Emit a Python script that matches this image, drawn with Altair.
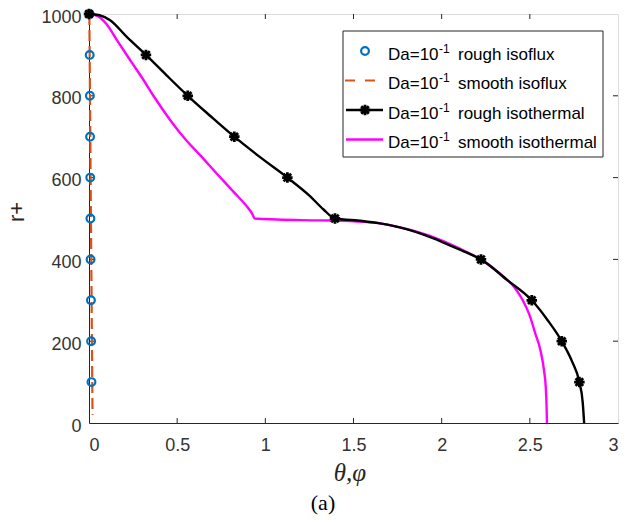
import altair as alt
import pandas as pd

# ---------------- data ----------------
# rough isoflux (blue circles)
rough_isoflux_r = [1000, 900, 800, 700, 600, 500, 400, 300, 200, 100]
rough_isoflux_theta = [0.003, 0.004, 0.005, 0.006, 0.007, 0.008, 0.009, 0.011, 0.012, 0.014]

# smooth isoflux (orange dashed)
smooth_isoflux_theta = [0.002, 0.011, 0.020]
smooth_isoflux_r = [1000, 500, 20]

# rough isothermal (black line)
rough_iso_theta = [0.0, 0.06, 0.12, 0.21, 0.323, 0.44, 0.56, 0.69, 0.824, 0.97, 1.125,
                   1.25, 1.33, 1.395, 1.55, 1.65, 1.80, 1.95, 2.06, 2.14, 2.223,
                   2.37, 2.511, 2.60, 2.681, 2.74, 2.781, 2.80, 2.808]
rough_iso_r = [1000, 997, 985, 946, 900, 850, 800, 750, 700, 650, 600,
               556, 522, 500, 494, 488, 474, 452, 432, 417, 400,
               350, 300, 252, 200, 150, 100, 50, 0]

# rough isothermal markers
marker_theta = [0.0, 0.323, 0.56, 0.824, 1.125, 1.395, 2.223, 2.511, 2.681, 2.781]
marker_r = [1000, 900, 800, 700, 600, 500, 400, 300, 200, 100]

# smooth isothermal (magenta line)
smooth_iso_theta = [0.0, 0.05, 0.10, 0.16, 0.24, 0.31, 0.37, 0.46, 0.55, 0.63, 0.72,
                    0.82, 0.90, 0.925, 0.94, 1.20, 1.40, 1.55, 1.65, 1.76, 1.93,
                    2.10, 2.25, 2.34, 2.41, 2.46, 2.50, 2.53, 2.56, 2.58, 2.59, 2.595, 2.597]
smooth_iso_r = [1000, 995, 975, 935, 883, 838, 797, 741, 692, 655, 612,
                565, 527, 512, 500, 496, 495, 492, 488, 479, 458,
                427, 392, 362, 333, 300, 262, 220, 178, 130, 89, 40, 0]

x_ticks = [0, 0.5, 1, 1.5, 2, 2.5, 3]
y_ticks = [0, 200, 400, 600, 800, 1000]

legend_labels = ["rough isoflux", "smooth isoflux", "rough isothermal", "smooth isothermal"]

# ---------------- styling ----------------
W, H = 529, 409
AX = "#262626"
BLUE = "#0072BD"
ORANGE = "#D95319"
MAGENTA = "#FF00FF"

xs = alt.Scale(domain=[0, 3], nice=False, zero=False)
ys = alt.Scale(domain=[0, 1000], nice=False, zero=False)

x_enc = alt.X("theta:Q", scale=xs,
              axis=alt.Axis(values=x_ticks, format="~g", title=None, tickSize=0,
                            labelFontSize=18, labelPadding=13, labelColor="#333333",
                            labelFont="Liberation Sans", grid=False,
                            domainColor=AX, domainWidth=1))
y_enc = alt.Y("r:Q", scale=ys,
              axis=alt.Axis(values=y_ticks, format="d", title=None, tickSize=0,
                            labelFontSize=18, labelPadding=8, labelColor="#333333",
                            labelFont="Liberation Sans", grid=False, labelOffset=3,
                            domainColor=AX, domainWidth=1))

df_circ = pd.DataFrame({"theta": rough_isoflux_theta, "r": rough_isoflux_r})
df_dash = pd.DataFrame({"theta": smooth_isoflux_theta, "r": smooth_isoflux_r,
                        "i": list(range(len(smooth_isoflux_r)))})
df_black = pd.DataFrame({"theta": rough_iso_theta, "r": rough_iso_r,
                         "i": list(range(len(rough_iso_r)))})
df_mark = pd.DataFrame({"theta": marker_theta, "r": marker_r})
df_mag = pd.DataFrame({"theta": smooth_iso_theta, "r": smooth_iso_r,
                       "i": list(range(len(smooth_iso_r)))})

ASTER = "M-1,0L1,0M0,-1L0,1M-0.72,-0.72L0.72,0.72M-0.72,0.72L0.72,-0.72"

dash_line = alt.Chart(df_dash).mark_line(color=ORANGE, strokeWidth=2.2, strokeDash=[11, 5]).encode(
    x=x_enc, y=y_enc, order="i:Q")
circles = alt.Chart(df_circ).mark_point(shape="circle", filled=False, color=BLUE,
                                       strokeWidth=2.2, size=60, opacity=1).encode(x=x_enc, y=y_enc)
mag_line = alt.Chart(df_mag).mark_line(color=MAGENTA, strokeWidth=2.4, interpolate="monotone").encode(
    x=x_enc, y=y_enc, order="i:Q")
black_line = alt.Chart(df_black).mark_line(color="black", strokeWidth=2.4, interpolate="monotone").encode(
    x=x_enc, y=y_enc, order="i:Q")
markers = alt.Chart(df_mark).mark_point(shape=ASTER, filled=False, color="black",
                                       strokeWidth=2.8, size=110, opacity=1).encode(x=x_enc, y=y_enc)

# inward ticks (box style)
df_xt = pd.DataFrame({"theta": x_ticks[1:-1]})
df_yt = pd.DataFrame({"r": y_ticks[1:-1]})
xt_bot = alt.Chart(df_xt).mark_rule(color=AX, strokeWidth=1).encode(
    x=x_enc, y=alt.value(H), y2=alt.value(H - 5))
xt_top = alt.Chart(df_xt).mark_rule(color=AX, strokeWidth=1).encode(
    x=x_enc, y=alt.value(0), y2=alt.value(5))
yt_left = alt.Chart(df_yt).mark_rule(color=AX, strokeWidth=1).encode(
    y=y_enc, x=alt.value(0), x2=alt.value(5))
yt_right = alt.Chart(df_yt).mark_rule(color=AX, strokeWidth=1).encode(
    y=y_enc, x=alt.value(W), x2=alt.value(W - 5))

one = pd.DataFrame({"a": [0]})

# ---------------- legend (manual) ----------------
LX0, LX1, LY0, LY1 = 254, 514, 17, 143
legend_layers = [
    alt.Chart(one).mark_rect(fill="white", stroke=AX, strokeWidth=1).encode(
        x=alt.value(LX0), x2=alt.value(LX1), y=alt.value(LY0), y2=alt.value(LY1))
]
sym_y = [37, 66.5, 96, 125.5]
txt_y = [45.5, 75, 104.5, 134]
# symbols
legend_layers.append(alt.Chart(one).mark_point(shape="circle", filled=False, color=BLUE,
                                               strokeWidth=2.2, size=60, opacity=1).encode(
    x=alt.value(276), y=alt.value(sym_y[0])))
legend_layers.append(alt.Chart(one).mark_rule(color=ORANGE, strokeWidth=2.2, strokeDash=[10, 10]).encode(
    x=alt.value(256), x2=alt.value(288), y=alt.value(sym_y[1])))
legend_layers.append(alt.Chart(one).mark_rule(color="black", strokeWidth=2.4).encode(
    x=alt.value(257), x2=alt.value(294), y=alt.value(sym_y[2])))
legend_layers.append(alt.Chart(one).mark_point(shape=ASTER, filled=False, color="black",
                                               strokeWidth=2.8, size=110, opacity=1).encode(
    x=alt.value(276), y=alt.value(sym_y[2])))
legend_layers.append(alt.Chart(one).mark_rule(color=MAGENTA, strokeWidth=2.4).encode(
    x=alt.value(257), x2=alt.value(294), y=alt.value(sym_y[3])))
# texts
for lbl, ty in zip(legend_labels, txt_y):
    legend_layers.append(alt.Chart(one).mark_text(
        text="Da=10", align="left", baseline="alphabetic", fontSize=17,
        font="Liberation Sans", color="black").encode(x=alt.value(299), y=alt.value(ty)))
    legend_layers.append(alt.Chart(one).mark_text(
        text="-1", align="left", baseline="alphabetic", fontSize=12,
        font="Liberation Sans", color="black").encode(x=alt.value(350), y=alt.value(ty - 7)))
    legend_layers.append(alt.Chart(one).mark_text(
        text=lbl, align="left", baseline="alphabetic", fontSize=17,
        font="Liberation Sans", color="black").encode(x=alt.value(369), y=alt.value(ty)))

# ---------------- titles ----------------
ytitle = alt.Chart(one).mark_text(text="r+", angle=270, fontSize=22, font="Liberation Sans",
                                  color="#262626", align="center", baseline="middle").encode(
    x=alt.value(17 - 89), y=alt.value(212 - 14))
xtitle = alt.Chart(one).mark_text(text="θ,φ", fontSize=25, font="Liberation Serif",
                                  fontStyle="italic", color="#262626", align="center",
                                  baseline="middle").encode(
    x=alt.value(350 - 89), y=alt.value(473 - 14))
atitle = alt.Chart(one).mark_text(text="(a)", fontSize=22, font="Liberation Serif",
                                  color="black", align="center", baseline="middle").encode(
    x=alt.value(323 - 89), y=alt.value(503 - 14))

chart = alt.layer(
    xt_bot, xt_top, yt_left, yt_right,
    dash_line, circles, mag_line, black_line, markers,
    *legend_layers, ytitle, xtitle, atitle
).properties(
    width=W, height=H,
    autosize=alt.AutoSizeParams(type="none"),
    padding={"left": 89, "top": 14, "right": 8, "bottom": 98},
).configure_view(
    stroke=AX, strokeWidth=1
).configure(background="white")

chart.save("out.html", embed_options={"renderer": "svg", "actions": False})
